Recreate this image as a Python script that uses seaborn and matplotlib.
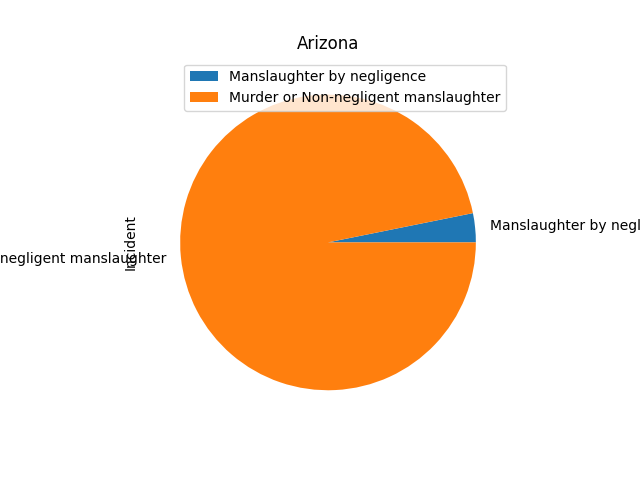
import seaborn as sns
import matplotlib
matplotlib.use("Agg")
import matplotlib.pyplot as plt

# Data
state = "Arizona"
incidents = ["Manslaughter by negligence", "Murder or Non-negligent manslaughter"]
counts = [12, 366]

colors = sns.color_palette("tab10", 2)

fig, ax = plt.subplots(figsize=(6.4, 4.8), dpi=100)
ax.pie(counts, labels=incidents, colors=colors)
ax.set_title(state)
ax.set_ylabel("Incident")
# legend sits a bit right of the pie centre in the reference
ax.legend(loc="upper center", bbox_to_anchor=(0.539, 0.88),
          bbox_transform=fig.transFigure)

fig.savefig("out.png")
